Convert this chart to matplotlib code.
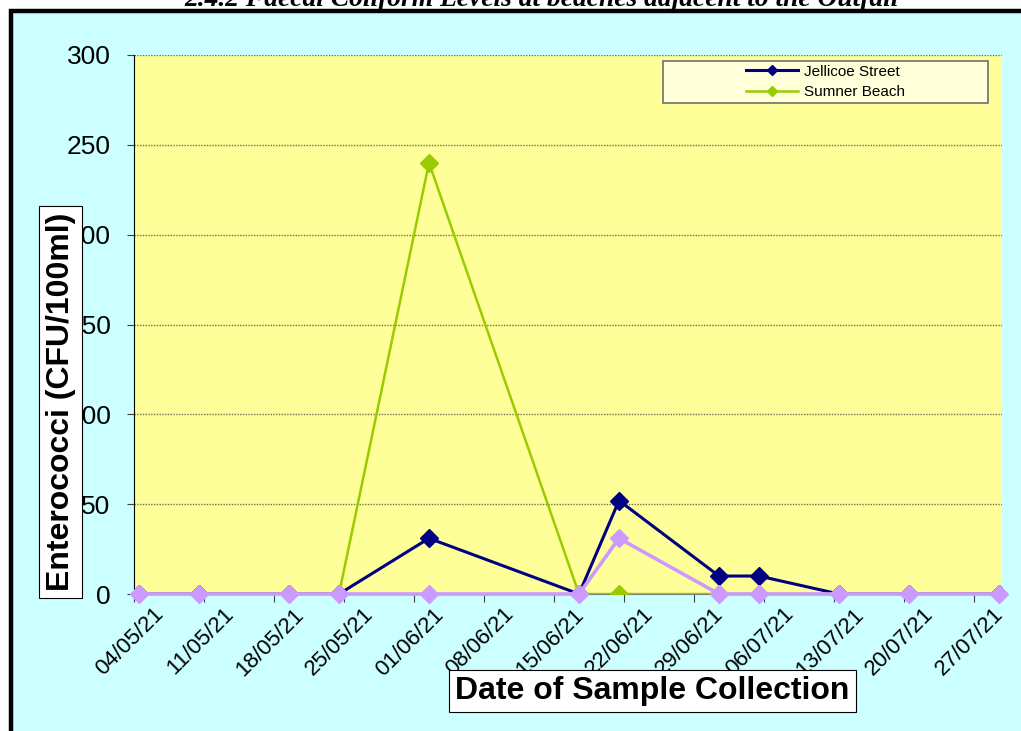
import matplotlib
matplotlib.use("Agg")
import matplotlib.pyplot as plt
import matplotlib.dates as mdates
from matplotlib.patches import Rectangle
from matplotlib.transforms import ScaledTranslation
import pandas as pd

# sample data
sample_dates = ["04/05/21", "10/05/21", "19/05/21", "24/05/21", "02/06/21", "17/06/21",
                "21/06/21", "01/07/21", "05/07/21", "13/07/21", "20/07/21", "29/07/21"]
jellicoe_street = [0, 0, 0, 0, 31, 0, 52, 10, 10, 0, 0, 0]
sumner_beach = [0, 0, 0, 0, 240, 0, 0, 0, 0, 0, 0, 0]
third_site = [0, 0, 0, 0, 0, 0, 31, 0, 0, 0, 0, 0]

tick_dates = ["04/05/21", "11/05/21", "18/05/21", "25/05/21", "01/06/21", "08/06/21", "15/06/21",
              "22/06/21", "29/06/21", "06/07/21", "13/07/21", "20/07/21", "27/07/21"]
y_ticks = [0, 50, 100, 150, 200, 250, 300]

W, H = 1021, 731
fig = plt.figure(figsize=(W / 100, H / 100), dpi=100, facecolor="white")
plt.rcParams["font.family"] = ["Liberation Sans", "DejaVu Sans"]

# chart area (cyan with thick black border, cut off at right and bottom)
fig.add_artist(Rectangle((10.5 / W, -0.05), 1.0, (H - 11) / H + 0.05, transform=fig.transFigure,
                         facecolor="#CCFFFF", edgecolor="black", linewidth=3.2, zorder=-1))

# title, mostly cropped off at the top
fig.text(542 / W, 1 - 6 / H, "2.4.2 Faecal Coliform Levels at beaches adjacent to the Outfall",
         ha="center", va="baseline", fontsize=19.8, family="Liberation Serif",
         style="italic", fontweight="bold")

ax = fig.add_axes([134 / W, (H - 594) / H, 868 / W, 539 / H])
ax.set_facecolor("#FFFF99")

# Excel date axis puts points in the middle of the day
x = pd.to_datetime(sample_dates, format="%d/%m/%y") + pd.Timedelta(hours=12)
ax.plot(x, jellicoe_street, color="#000080", lw=2.2, marker="D", ms=9.5, label="Jellicoe Street", zorder=3)
ax.plot(x, sumner_beach, color="#99CC00", lw=1.8, marker="D", ms=9.5, label="Sumner Beach", zorder=4)
ax.plot(x, third_site, color="#CC99FF", lw=2.6, marker="D", ms=9.5, zorder=5, clip_on=False)

ticks = pd.to_datetime(tick_dates, format="%d/%m/%y")
ax.set_xlim(ticks[0], ticks[0] + pd.Timedelta(days=86.8))
ax.set_xticks(ticks)
ax.xaxis.set_major_formatter(mdates.DateFormatter("%d/%m/%y"))
ax.set_ylim(0, 300)
ax.set_yticks(y_ticks)

ax.yaxis.grid(True, linestyle=(0, (1, 1)), color="#6E6E50", linewidth=1)
ax.set_axisbelow(True)
for s in ["top", "right"]:
    ax.spines[s].set_visible(False)
ax.spines["left"].set_color("black")
ax.spines["bottom"].set_color("#808080")

ax.tick_params(axis="y", direction="out", length=5, color="#404040", pad=12, labelsize=19)
ax.tick_params(axis="x", direction="out", length=6, color="#404040", pad=4, labelsize=16)
shift = ScaledTranslation(0.19, 0.04, fig.dpi_scale_trans)
for lbl in ax.get_xticklabels():
    lbl.set_rotation(45)
    lbl.set_ha("right")
    lbl.set_rotation_mode("anchor")
    lbl.set_transform(lbl.get_transform() + shift)

# legend frame + entries
x0, y0 = (663 - 134) / 868, (594 - 103) / 539
x1, y1 = (988 - 134) / 868, (594 - 61) / 539
ax.add_patch(Rectangle((x0, y0), x1 - x0, y1 - y0, transform=ax.transAxes,
                       facecolor="#FFFFDA", edgecolor="#707070", linewidth=1.2, zorder=6))
leg = ax.legend(loc="center", bbox_to_anchor=((x0 + x1) / 2, (y0 + y1) / 2), frameon=False,
                fontsize=11, handlelength=3.4, handletextpad=0.4, labelspacing=0.45,
                markerscale=0.55, borderpad=0)
leg.set_zorder(7)

# axis titles in white boxes
fig.text(60.5 / W, (H - 402) / H, "Enterococci (CFU/100ml)", rotation=90, ha="center", va="center",
         fontsize=23, fontweight="bold",
         bbox=dict(boxstyle="square,pad=0.2", facecolor="white", edgecolor="black", linewidth=0.8))
fig.text(652.5 / W, 40 / H, "Date of Sample Collection", ha="center", va="center",
         fontsize=23, fontweight="bold",
         bbox=dict(boxstyle="square,pad=0.2", facecolor="white", edgecolor="black", linewidth=0.8))

fig.savefig("out.png", dpi=100, facecolor="white")
